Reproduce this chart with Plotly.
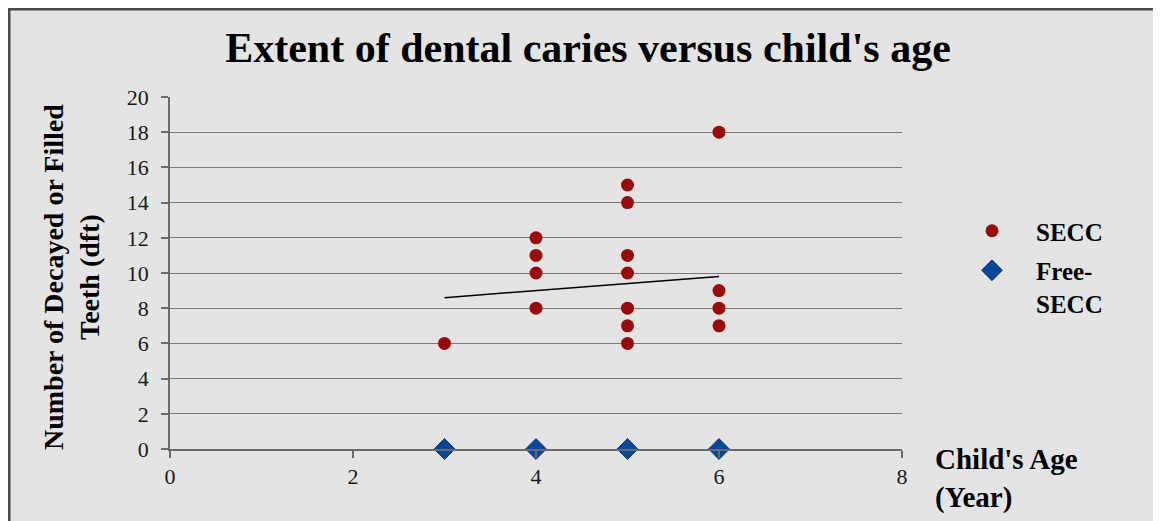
import plotly.graph_objects as go

# Data
secc_age = [3, 4, 4, 4, 4, 5, 5, 5, 5, 5, 5, 5, 6, 6, 6, 6]
secc_dft = [6, 12, 11, 10, 8, 15, 14, 11, 10, 8, 7, 6, 18, 9, 8, 7]
free_age = [3, 4, 5, 6]
free_dft = [0, 0, 0, 0]
trend_age = [3, 6]
trend_dft = [8.6, 9.8]
x_ticks = [0, 2, 4, 6, 8]
y_ticks = [0, 2, 4, 6, 8, 10, 12, 14, 16, 18, 20]

SERIF = "Liberation Serif, Times New Roman, serif"
BG = "#e4e4e4"

fig = go.Figure()
fig.add_trace(go.Scatter(
    x=secc_age, y=secc_dft, mode="markers", name="SECC",
    legendgroup="a",
    marker=dict(symbol="circle", size=13, color="#9a0a0a"),
))
fig.add_trace(go.Scatter(
    x=free_age, y=free_dft, mode="markers", name="Free-<br>SECC",
    legendgroup="b",
    marker=dict(symbol="diamond", size=16, color="#07489a",
                line=dict(color="#0a3570", width=1)),
    cliponaxis=False,
))
fig.add_trace(go.Scatter(
    x=trend_age, y=trend_dft, mode="lines", showlegend=False,
    line=dict(color="black", width=1.5),
))

# page offset of 8px (body margin) -> figure coordinates
W, H = 1153, 513
L, R, T, B = 162, 1153 - 894, 89, 513 - 441
pw = W - L - R
ph = H - T - B

def px(xp):
    return (xp - L) / pw

def py(yp):
    return 1 - (yp - T) / ph

fig.update_layout(
    width=W, height=H,
    margin=dict(l=L, r=R, t=T, b=B),
    paper_bgcolor=BG, plot_bgcolor=BG,
    title=dict(text="<b>Extent of dental caries versus child's age</b>",
               x=580 / W, xanchor="center", y=1 - 39 / H, yanchor="middle",
               font=dict(family=SERIF, size=42, color="black")),
    showlegend=True,
    legend=dict(x=px(940), y=py(200),
                xanchor="left", yanchor="top", valign="top",
                bgcolor="rgba(0,0,0,0)", itemwidth=78,
                tracegroupgap=4,
                font=dict(family=SERIF, size=25, color="black", weight="bold")),
    xaxis=dict(range=[0, 8], tickvals=x_ticks, showgrid=False, zeroline=False,
               showline=True, linecolor="#6a6a6a", linewidth=1.5,
               ticks="outside", ticklen=7, tickcolor="#6a6a6a", tickwidth=1.5,
               tickfont=dict(family=SERIF, size=22, color="#1a1a1a")),
    yaxis=dict(range=[0, 20], tickvals=y_ticks, showgrid=True,
               gridcolor="#7a7a7a", gridwidth=1.3, zeroline=False,
               showline=True, linecolor="#6a6a6a", linewidth=1.5,
               ticks="outside", ticklen=7, tickcolor="#6a6a6a", tickwidth=1.5,
               tickfont=dict(family=SERIF, size=22, color="#1a1a1a"),
               ticklabelstandoff=8),
    font=dict(family=SERIF),
)

# Axis titles as annotations
fig.add_annotation(
    text="<b>Number of Decayed or Filled<br>Teeth (dft)</b>",
    xref="paper", yref="paper", x=px(63), y=py(269),
    xanchor="center", yanchor="middle", textangle=-90, showarrow=False,
    font=dict(family=SERIF, size=28, color="black"),
)
fig.add_annotation(
    text="<b>Child's Age<br>(Year)</b>",
    xref="paper", yref="paper", x=px(925), y=py(433),
    xanchor="left", yanchor="top", align="left", showarrow=False,
    font=dict(family=SERIF, size=29, color="black"),
)

# Dark border along the top and left edges of the chart area
fig.add_shape(type="line", xref="paper", yref="paper",
              x0=px(0), x1=px(W), y0=py(1), y1=py(1),
              line=dict(color="#4a4a4a", width=3), layer="above")
fig.add_shape(type="line", xref="paper", yref="paper",
              x0=px(1), x1=px(1), y0=py(H), y1=py(0),
              line=dict(color="#4a4a4a", width=3), layer="above")

fig.write_html("out.html")
